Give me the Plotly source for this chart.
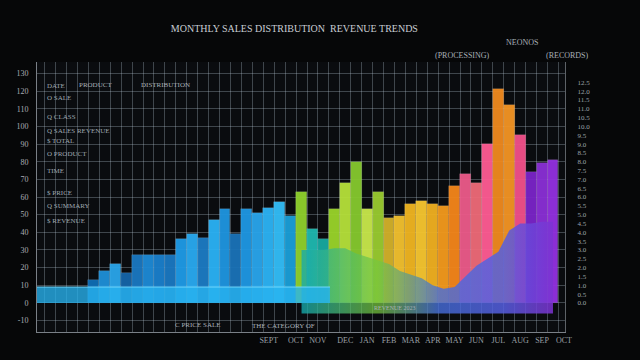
import plotly.graph_objects as go

# ---------------- data ----------------
bar_x = list(range(1, 44))
bar_values = [13, 18, 22, 17, 27, 27, 27, 27, 36, 39, 37, 47, 53, 39, 53, 51, 54, 57, 49,
              63, 42, 36, 53, 68, 80, 53, 63, 48, 49, 56, 58, 56, 55, 66, 73, 68, 90,
              121, 112, 95, 74, 79, 81]
bar_colors = ["#0f6db5", "#1f8fd8", "#2aa5ea", "#1565a8", "#1a78c2", "#1d8ad6", "#1a7fcc",
              "#1a78c2", "#1f9be6", "#29aaf0", "#1c7bc4", "#2ab2f5", "#1f95e0", "#1a73b8",
              "#1f98e3", "#29a5ec", "#2cb3f4", "#33bdf7", "#1a9fd8",
              "#8fd12c", "#1fb8b0", "#17a9a0", "#9ad42a", "#b5e03a", "#86c92e", "#c8e84a",
              "#9acb2f", "#d3b12a", "#f2c12e", "#f0b520", "#f6c62f", "#f0b020", "#f39a1c",
              "#f4861a", "#ec5a8a", "#ee6a78", "#ff5c93", "#f08a1e", "#f39424", "#f2508a",
              "#7a24c8", "#8a2fd6", "#9230e0"]

area_x = list(range(20, 44))
area_values = [30, 30, 30, 31, 31, 28, 26, 24, 22, 18, 16, 14, 10, 8, 9, 15, 21, 25, 29,
               41, 45, 45, 46, 46]
area_floor = -6

band_x = [-4.2, 22.6]
band_low = [0, 0]
band_high = [9, 9]

y_tick_vals = list(range(-10, 131, 10))
y_tick_text = ["-10", "0", "10", "20", "30", "40", "50", "60", "70", "80", "90",
               "100", "110", "120", "130"]

right_tick_vals = list(range(0, 130, 5))
right_tick_text = ["0.0", "0.5", "1.0", "1.5", "2.0", "2.5", "3.0", "3.5", "4.0", "4.5",
                   "5.0", "5.5", "6.0", "6.5", "7.0", "7.5", "8.0", "8.5", "9.0", "9.5",
                   "10.0", "10.5", "11.0", "11.5", "12.0", "12.5"]

month_vals = [17, 19.5, 21.5, 24, 26, 28, 30, 32, 34, 36, 38, 40, 42, 44]
month_text = ["SEPT", "OCT", "NOV", "DEC", "JAN", "FEB", "MAR", "APR", "MAY", "JUN",
              "JUL", "AUG", "SEP", "OCT"]

left_notes = ["DATE", "O SALE", "Q CLASS", "Q SALES REVENUE", "$ TOTAL", "O PRODUCT",
              "TIME", "$ PRICE", "Q SUMMARY", "$ REVENUE"]
left_notes_y = [86, 98, 117, 130, 140, 153, 170, 192, 205, 220]

# ---------------- figure ----------------
fig = go.Figure()

fig.add_trace(go.Bar(
    x=bar_x, y=bar_values, width=1.0,
    marker=dict(color=bar_colors, line=dict(color="rgba(255,255,255,0.22)", width=0.6)),
    opacity=0.95, showlegend=False, hoverinfo="y"))

# lower layered area
fig.add_trace(go.Scatter(
    x=area_x, y=[area_floor] * len(area_x), mode="lines",
    line=dict(width=0), showlegend=False, hoverinfo="skip"))
fig.add_trace(go.Scatter(
    x=area_x, y=area_values, mode="lines", fill="tonexty",
    line=dict(width=0),
    fillgradient=dict(type="horizontal", colorscale=[
        [0.0, "rgba(20,170,175,0.78)"], [0.3, "rgba(120,200,60,0.72)"],
        [0.55, "rgba(70,110,220,0.80)"], [0.8, "rgba(85,95,225,0.85)"],
        [1.0, "rgba(125,50,210,0.85)"]]),
    showlegend=False, hoverinfo="skip"))

# left cyan band
fig.add_trace(go.Scatter(
    x=band_x, y=band_low, mode="lines", line=dict(width=0),
    showlegend=False, hoverinfo="skip"))
fig.add_trace(go.Scatter(
    x=band_x, y=band_high, mode="lines", fill="tonexty",
    line=dict(width=1, color="rgba(120,220,255,0.9)"),
    fillcolor="rgba(40,180,240,0.78)", showlegend=False, hoverinfo="skip"))

# invisible trace for right axis
fig.add_trace(go.Scatter(x=[None], y=[None], yaxis="y2", showlegend=False))

grid = "rgba(190,205,220,0.30)"
fig.update_layout(
    width=640, height=360, autosize=False,
    margin=dict(l=37, r=75, t=62, b=28),
    paper_bgcolor="#060708", plot_bgcolor="#0a0c0f",
    bargap=0,
    font=dict(family="Liberation Serif", color="#c8cdd3"),
    title=dict(text="MONTHLY SALES DISTRIBUTION  REVENUE TRENDS", x=0.46, xanchor="center",
               y=0.922, yanchor="middle", font=dict(size=10, color="#c9ced4")),
    xaxis=dict(range=[-4.2, 44.1], tickmode="array", tickvals=month_vals, ticktext=month_text,
               showgrid=False, zeroline=False, showline=True, linecolor="rgba(200,210,220,0.6)",
               tickfont=dict(size=8, color="#9aa0a6"), ticks="",
               minor=dict(tick0=0.5, dtick=1, showgrid=True, gridcolor=grid, gridwidth=1)),
    yaxis=dict(range=[-16.5, 136.5], tickmode="array", tickvals=y_tick_vals, ticktext=y_tick_text,
               showgrid=True, gridcolor=grid, zeroline=False, showline=True,
               linecolor="rgba(200,210,220,0.6)", tickfont=dict(size=8, color="#a9aeb4"),
               ticklabelstandoff=6),
    yaxis2=dict(range=[-16.5, 136.5], overlaying="y", side="right", tickmode="array",
                tickvals=right_tick_vals, ticktext=right_tick_text, showgrid=False,
                zeroline=False, showline=True, linecolor="rgba(200,210,220,0.45)",
                tickfont=dict(size=7, color="#9ea4aa"), ticklabelstandoff=10),
)

ann = []
for txt, py in zip(left_notes, left_notes_y):
    ann.append(dict(text=txt, xref="paper", yref="paper", x=(45 - 37) / 528, y=(330 - py) / 268,
                    xanchor="left", yanchor="middle", showarrow=False,
                    font=dict(size=7, color="#9fa8b0")))
extra = [("NEONOS", 522, 43, 8), ("(PROCESSING)", 462, 56, 8), ("(RECORDS)", 567, 56, 8),
         ("C PRICE SALE", 198, 323, 7), ("THE CATEGORY OF", 283, 324, 7),
         ("PRODUCT", 95, 85, 7), ("DISTRIBUTION", 165, 85, 7), ("REVENUE 2023", 395, 306, 6)]
for txt, px, py, fs in extra:
    ann.append(dict(text=txt, xref="paper", yref="paper", x=(px - 37) / 528, y=(330 - py) / 268,
                    xanchor="center", yanchor="middle", showarrow=False,
                    font=dict(size=fs, color="#a9b0b7")))
fig.update_layout(annotations=ann)

fig.write_html("out.html", config={"displayModeBar": False},
               post_script="document.body.style.margin='0';")
